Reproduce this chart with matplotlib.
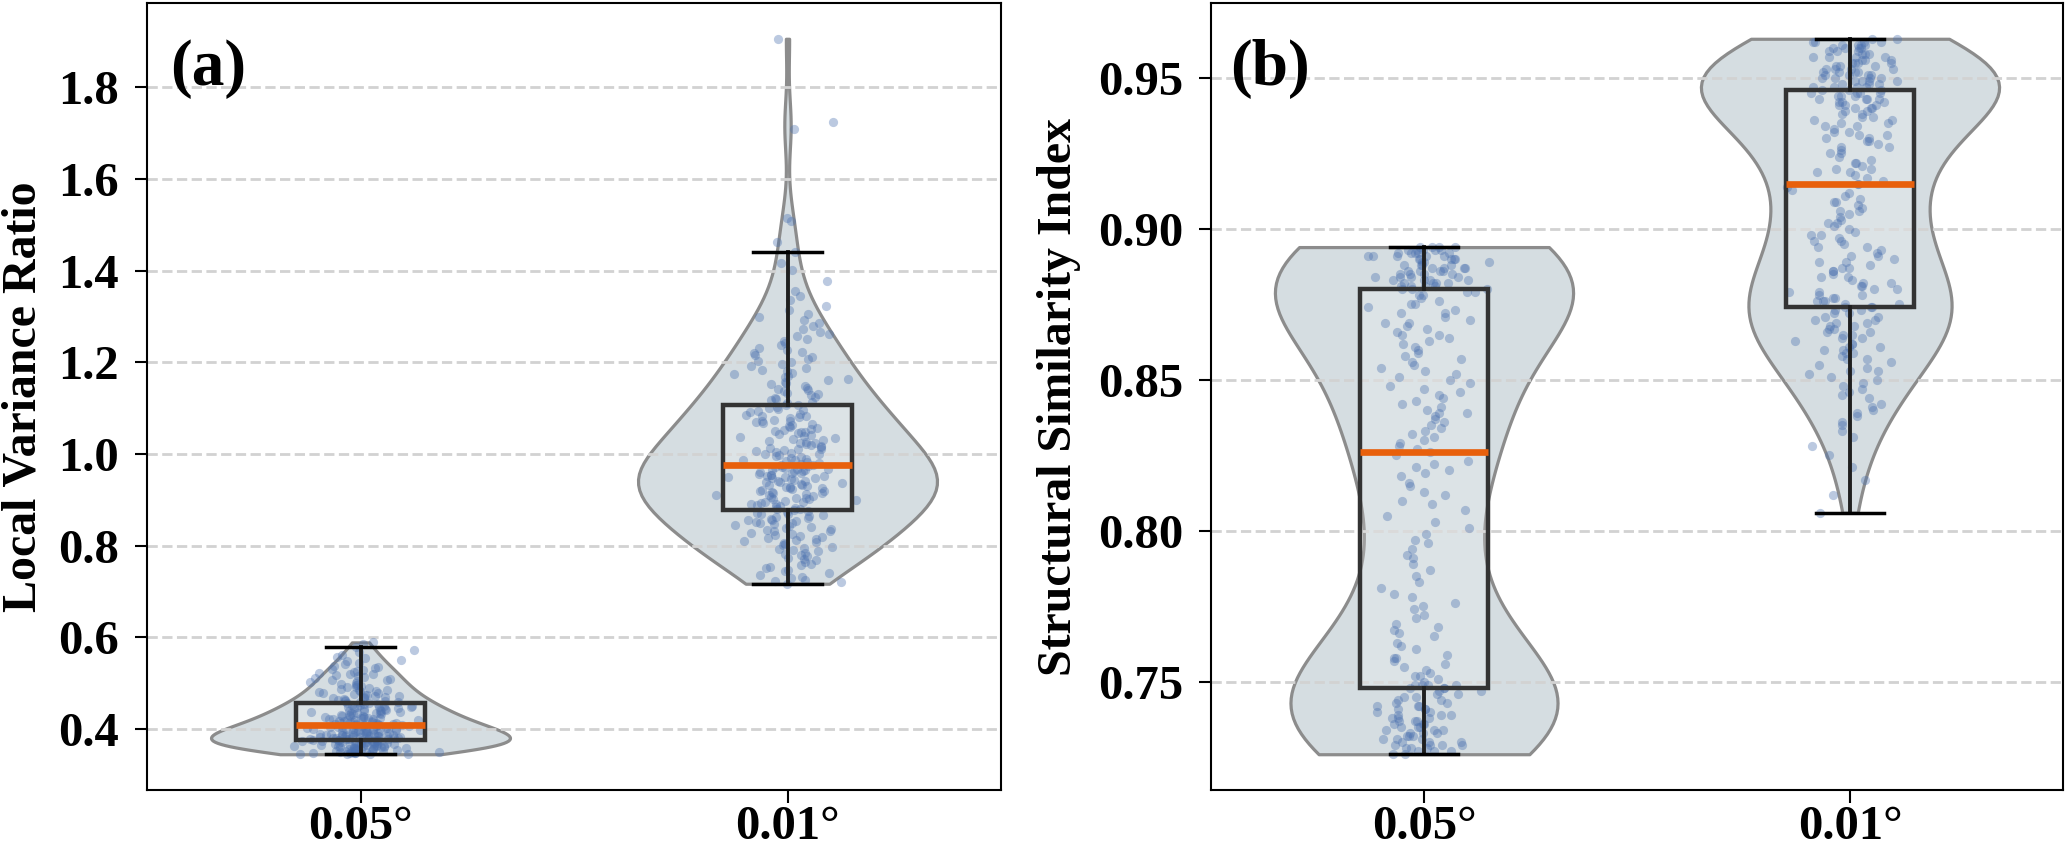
import numpy as np
import matplotlib
matplotlib.use("Agg")
import matplotlib.pyplot as plt
from matplotlib.patches import PathPatch

plt.rcParams["font.family"] = ["Liberation Serif", "DejaVu Serif"]
plt.rcParams["font.weight"] = "bold"

CATS = ["0.05°", "0.01°"]

# (a) local variance ratio
LVR_005 = [
    0.345, 0.345, 0.346, 0.346, 0.347, 0.347, 0.348, 0.348, 0.349, 0.349, 0.349,
    0.350, 0.350, 0.351, 0.351, 0.352, 0.352, 0.353, 0.353, 0.354, 0.355, 0.355, 0.356, 0.356, 0.357, 0.357, 0.358, 0.358, 0.359,
    0.360, 0.360, 0.361, 0.361, 0.362, 0.362, 0.363, 0.363, 0.364, 0.364, 0.365, 0.365, 0.366, 0.366, 0.367, 0.367, 0.368, 0.368, 0.369, 0.369, 0.369,
    0.370, 0.370, 0.370, 0.371, 0.371, 0.372, 0.372, 0.373, 0.373, 0.374, 0.374, 0.375, 0.375, 0.376, 0.376, 0.377, 0.377, 0.378, 0.378, 0.379, 0.379, 0.379,
    0.380, 0.380, 0.381, 0.381, 0.381, 0.382, 0.382, 0.383, 0.383, 0.384, 0.384, 0.385, 0.385, 0.385, 0.386, 0.386, 0.387, 0.387, 0.388, 0.388, 0.389, 0.389,
    0.390, 0.390, 0.391, 0.391, 0.392, 0.393, 0.393, 0.394, 0.394, 0.395, 0.395, 0.396, 0.396, 0.397, 0.397, 0.398, 0.398, 0.399, 0.399,
    0.400, 0.401, 0.401, 0.402, 0.403, 0.403, 0.404, 0.405, 0.405, 0.406, 0.407, 0.407, 0.408, 0.408, 0.409, 0.409,
    0.410, 0.411, 0.411, 0.412, 0.413, 0.413, 0.414, 0.415, 0.415, 0.416, 0.417, 0.417, 0.418, 0.419, 0.419,
    0.420, 0.421, 0.422, 0.422, 0.423, 0.424, 0.425, 0.425, 0.426, 0.427, 0.428, 0.428, 0.429,
    0.430, 0.431, 0.432, 0.433, 0.434, 0.435, 0.435, 0.436, 0.437, 0.438, 0.439, 0.439,
    0.440, 0.441, 0.442, 0.443, 0.444, 0.445, 0.446, 0.447, 0.448, 0.448, 0.449,
    0.450, 0.451, 0.452, 0.453, 0.454, 0.455, 0.456, 0.457, 0.458, 0.459,
    0.461, 0.462, 0.463, 0.464, 0.466, 0.467, 0.468, 0.469,
    0.470, 0.471, 0.473, 0.474, 0.475, 0.477, 0.478, 0.479,
    0.481, 0.482, 0.484, 0.485, 0.486, 0.488, 0.489,
    0.491, 0.492, 0.494, 0.495, 0.497, 0.499,
    0.501, 0.502, 0.504, 0.506, 0.507, 0.509,
    0.511, 0.513, 0.515, 0.517, 0.519,
    0.521, 0.523, 0.525, 0.527, 0.529,
    0.531, 0.534, 0.536, 0.538,
    0.542, 0.545, 0.548, 0.551, 0.555, 0.558, 0.562, 0.567,
    0.572, 0.578, 0.585, 0.589,
]
LVR_001 = [
    0.717, 0.720, 0.723, 0.726, 0.729, 0.732, 0.736, 0.740, 0.744, 0.748,
    0.751, 0.754, 0.757, 0.761, 0.764, 0.768, 0.771, 0.774, 0.777, 0.779, 0.782, 0.785, 0.788,
    0.791, 0.793, 0.796, 0.798, 0.801, 0.803, 0.806, 0.808,
    0.811, 0.813, 0.815, 0.817, 0.819, 0.822, 0.824, 0.826, 0.828,
    0.831, 0.833, 0.835, 0.837, 0.839, 0.841, 0.843, 0.845, 0.847, 0.849,
    0.850, 0.852, 0.854, 0.856, 0.857, 0.859, 0.861, 0.863, 0.865, 0.867, 0.869,
    0.870, 0.872, 0.874, 0.876, 0.877, 0.879, 0.881, 0.883, 0.885, 0.887, 0.889,
    0.890, 0.892, 0.893, 0.895, 0.896, 0.898, 0.899, 0.901, 0.902, 0.904, 0.905, 0.907, 0.909,
    0.910, 0.911, 0.913, 0.914, 0.916, 0.917, 0.919, 0.920, 0.922, 0.923, 0.925, 0.926, 0.928, 0.929,
    0.930, 0.932, 0.933, 0.935, 0.936, 0.938, 0.939, 0.941, 0.942, 0.944, 0.945, 0.947, 0.948, 0.949,
    0.950, 0.951, 0.953, 0.954, 0.955, 0.957, 0.958, 0.959, 0.961, 0.962, 0.963, 0.965, 0.966, 0.967, 0.968, 0.969,
    0.971, 0.972, 0.974, 0.976, 0.977, 0.979, 0.981, 0.982, 0.984, 0.986, 0.987, 0.989,
    0.991, 0.993, 0.995, 0.997, 0.999, 1.001, 1.003, 1.005, 1.007, 1.009,
    1.010, 1.012, 1.014, 1.015, 1.017, 1.019, 1.021, 1.023, 1.025, 1.027, 1.029,
    1.031, 1.033, 1.035, 1.037, 1.039, 1.041, 1.043, 1.045, 1.047, 1.049,
    1.051, 1.053, 1.055, 1.057, 1.059, 1.061, 1.063, 1.065, 1.067, 1.069,
    1.071, 1.073, 1.075, 1.078, 1.080, 1.082, 1.084, 1.086, 1.088,
    1.091, 1.093, 1.096, 1.098, 1.101, 1.103, 1.106, 1.108,
    1.111, 1.114, 1.117, 1.119, 1.122, 1.125, 1.128,
    1.131, 1.134, 1.137, 1.139, 1.142, 1.145, 1.148,
    1.152, 1.155, 1.158, 1.161, 1.164, 1.167,
    1.171, 1.174, 1.177, 1.181, 1.184, 1.187,
    1.192, 1.196, 1.200, 1.203, 1.207, 1.212, 1.216, 1.220, 1.223, 1.227,
    1.232, 1.237, 1.242, 1.247, 1.252, 1.257, 1.262, 1.267,
    1.273, 1.279, 1.285, 1.293, 1.299, 1.305, 1.314, 1.323, 1.336, 1.345,
    1.356, 1.378, 1.402, 1.417, 1.441,
    1.463, 1.508, 1.515, 1.709, 1.724, 1.906,
]

# (b) structural similarity index
SSIM_005 = [
    0.726, 0.726, 0.727, 0.727, 0.727, 0.728, 0.728, 0.728, 0.729, 0.729, 0.729, 0.729,
    0.730, 0.730, 0.730, 0.731, 0.731, 0.731, 0.732, 0.732, 0.732, 0.733, 0.733, 0.733, 0.734, 0.734, 0.734,
    0.735, 0.735, 0.735, 0.736, 0.736, 0.736, 0.737, 0.737, 0.737, 0.738, 0.738, 0.738, 0.739, 0.739, 0.739,
    0.740, 0.740, 0.741, 0.741, 0.741, 0.742, 0.742, 0.742, 0.743, 0.743, 0.744, 0.744, 0.745, 0.745, 0.746, 0.746,
    0.747, 0.747, 0.748, 0.748, 0.748, 0.749, 0.749, 0.749, 0.749,
    0.750, 0.751, 0.752, 0.752, 0.753, 0.754, 0.755, 0.756, 0.757, 0.758, 0.758, 0.759,
    0.761, 0.762, 0.763, 0.765, 0.766, 0.767, 0.768, 0.769,
    0.771, 0.772, 0.774, 0.775, 0.776, 0.778, 0.779,
    0.781, 0.783, 0.785, 0.787, 0.789,
    0.791, 0.792, 0.794, 0.796, 0.797, 0.799,
    0.801, 0.803, 0.805, 0.807, 0.809,
    0.810, 0.812, 0.813, 0.815, 0.816, 0.818, 0.819,
    0.820, 0.821, 0.822, 0.823, 0.825, 0.826, 0.827, 0.828, 0.829,
    0.830, 0.831, 0.832, 0.833, 0.834, 0.835, 0.836, 0.837, 0.838, 0.839, 0.839,
    0.840, 0.841, 0.842, 0.843, 0.844, 0.845, 0.846, 0.847, 0.848, 0.849,
    0.850, 0.851, 0.852, 0.853, 0.854, 0.855, 0.856, 0.857, 0.858, 0.859,
    0.860, 0.861, 0.862, 0.863, 0.864, 0.865, 0.865, 0.866, 0.867, 0.868, 0.869, 0.869,
    0.870, 0.871, 0.872, 0.872, 0.873, 0.874, 0.875, 0.875, 0.876, 0.877, 0.878, 0.878, 0.879, 0.879,
    0.880, 0.880, 0.880, 0.881, 0.881, 0.881, 0.881, 0.882, 0.882, 0.882, 0.882, 0.883, 0.883, 0.883, 0.883,
    0.884, 0.884, 0.884, 0.884, 0.885, 0.885, 0.885, 0.885, 0.886, 0.886, 0.886, 0.886,
    0.887, 0.887, 0.887, 0.887, 0.888, 0.888, 0.888, 0.888, 0.889, 0.889, 0.889,
    0.890, 0.890, 0.890, 0.890, 0.890, 0.891, 0.891, 0.891, 0.891, 0.891, 0.892, 0.892, 0.892, 0.892, 0.892,
    0.893, 0.893, 0.893, 0.893, 0.893, 0.894, 0.894, 0.894, 0.894,
]
SSIM_001 = [
    0.806, 0.812, 0.817, 0.821, 0.825, 0.828,
    0.831, 0.833, 0.835, 0.836, 0.838, 0.839,
    0.840, 0.841, 0.842, 0.844, 0.845, 0.846, 0.847, 0.848, 0.849,
    0.850, 0.851, 0.852, 0.853, 0.853, 0.854, 0.855, 0.856, 0.857, 0.857, 0.858, 0.859, 0.859,
    0.860, 0.860, 0.861, 0.861, 0.862, 0.862, 0.863, 0.864, 0.864, 0.865, 0.865, 0.866, 0.866, 0.867, 0.867, 0.868, 0.868, 0.869, 0.869,
    0.870, 0.870, 0.871, 0.871, 0.872, 0.872, 0.873, 0.873, 0.874, 0.874, 0.874, 0.875, 0.875, 0.876, 0.876, 0.876,
    0.877, 0.877, 0.878, 0.878, 0.879, 0.879,
    0.880, 0.880, 0.881, 0.881, 0.882, 0.882, 0.883, 0.884, 0.884, 0.885, 0.886, 0.886, 0.887, 0.887, 0.888, 0.889, 0.889,
    0.890, 0.891, 0.891, 0.892, 0.893, 0.894, 0.894, 0.895, 0.896, 0.896, 0.897, 0.898, 0.898, 0.899,
    0.900, 0.901, 0.902, 0.902, 0.903, 0.904, 0.905, 0.906, 0.906, 0.907, 0.908, 0.909, 0.909,
    0.910, 0.911, 0.912, 0.913, 0.914, 0.915, 0.915, 0.916, 0.917, 0.918, 0.919, 0.919,
    0.920, 0.920, 0.921, 0.922, 0.922, 0.923, 0.924, 0.925, 0.925, 0.926, 0.927, 0.927, 0.928, 0.929, 0.929,
    0.930, 0.930, 0.931, 0.931, 0.932, 0.932, 0.933, 0.934, 0.934, 0.935, 0.935, 0.936, 0.936, 0.937, 0.937,
    0.938, 0.938, 0.939, 0.939,
    0.940, 0.940, 0.940, 0.941, 0.941, 0.941, 0.942, 0.942, 0.942, 0.943, 0.943, 0.943, 0.943,
    0.944, 0.944, 0.944, 0.945, 0.945, 0.945, 0.945, 0.946, 0.946, 0.946, 0.947, 0.947, 0.947, 0.947,
    0.948, 0.948, 0.948, 0.949, 0.949, 0.949, 0.949,
    0.950, 0.950, 0.950, 0.950, 0.951, 0.951, 0.951, 0.951, 0.952, 0.952, 0.952, 0.952,
    0.953, 0.953, 0.953, 0.953, 0.954, 0.954, 0.954, 0.955, 0.955, 0.955, 0.955,
    0.956, 0.956, 0.956, 0.957, 0.957, 0.957, 0.957, 0.958, 0.958, 0.958, 0.959, 0.959, 0.959,
    0.960, 0.960, 0.960, 0.960, 0.961, 0.961, 0.961, 0.961, 0.962, 0.962, 0.962, 0.962, 0.963, 0.963,
]

VIOLIN_FC = "#d5dde1"
VIOLIN_EC = "#8c8c8c"
POINT_C = "#4c72b0"
MEDIAN_C = "#e8600c"
TICK_FS = 35
LABEL_FS = 34.5


def panel(ax, groups, ylabel, tag, tag_x, yticks, label_x, seed):
    pos = [0, 1]
    vp = ax.violinplot(groups, positions=pos, widths=0.7, showextrema=False)
    for b in vp["bodies"]:
        b.set_facecolor(VIOLIN_FC); b.set_edgecolor(VIOLIN_EC)
        b.set_linewidth(2.3); b.set_alpha(1); b.set_zorder(1)

    bp = ax.boxplot(groups, positions=pos, widths=0.3, capwidths=0.16, patch_artist=True,
                    showfliers=False,
                    boxprops=dict(facecolor="none", edgecolor="#333333", linewidth=3.2),
                    whiskerprops=dict(color="#1f1f1f", linewidth=2.8),
                    capprops=dict(color="black", linewidth=2.5),
                    medianprops=dict(color=MEDIAN_C, linewidth=4.8, solid_capstyle="butt"),
                    zorder=4)
    for m in bp["medians"]:
        m.set_zorder(5)
    for bx in bp["boxes"]:  # faint white fill below the points
        ax.add_patch(PathPatch(bx.get_path(), facecolor=(1, 1, 1, 0.18), edgecolor="none", zorder=1.8))

    # horizontal jitter only, for visibility
    rng = np.random.default_rng(seed)
    for p, g in zip(pos, groups):
        xj = p + rng.normal(0, 0.055, len(g))
        ax.scatter(xj, g, s=44, color=POINT_C, alpha=0.38, linewidths=0, zorder=3)

    ax.set_xlim(-0.5, 1.5)
    ax.set_xticks(pos, CATS)
    ax.set_yticks(yticks)
    ax.yaxis.grid(True, linestyle="--", color="#d2d2d2", linewidth=2)
    ax.set_axisbelow("line")
    ax.tick_params(axis="both", length=9, width=1.5, color="black")
    ax.tick_params(axis="y", labelsize=TICK_FS, pad=11)
    ax.tick_params(axis="x", labelsize=TICK_FS, pad=1.5)
    for sp in ax.spines.values():
        sp.set_linewidth(1.5); sp.set_color("black")
    ax.set_ylabel(ylabel, fontsize=LABEL_FS, fontweight="bold")
    ax.yaxis.set_label_coords(label_x, 0.5)
    ax.text(tag_x, 0.896, tag, transform=ax.transAxes, fontsize=47, fontweight="bold",
            ha="left", va="baseline")


fig = plt.figure(figsize=(20.67, 8.49), dpi=100)
ax1 = fig.add_axes([147 / 2067, 59 / 849, 854 / 2067, 787 / 849])
ax2 = fig.add_axes([1211 / 2067, 59 / 849, 852 / 2067, 787 / 849])

panel(ax1, [LVR_005, LVR_001], "Local Variance Ratio", "(a)", 0.027,
      [0.4, 0.6, 0.8, 1.0, 1.2, 1.4, 1.6, 1.8], -0.119, 3)
ax1.yaxis.set_major_formatter(matplotlib.ticker.FormatStrFormatter("%.1f"))
panel(ax2, [SSIM_005, SSIM_001], "Structural Similarity Index", "(b)", 0.023,
      [0.75, 0.80, 0.85, 0.90, 0.95], -0.1526, 5)
ax2.yaxis.set_major_formatter(matplotlib.ticker.FormatStrFormatter("%.2f"))

fig.savefig("out.png", dpi=100)
